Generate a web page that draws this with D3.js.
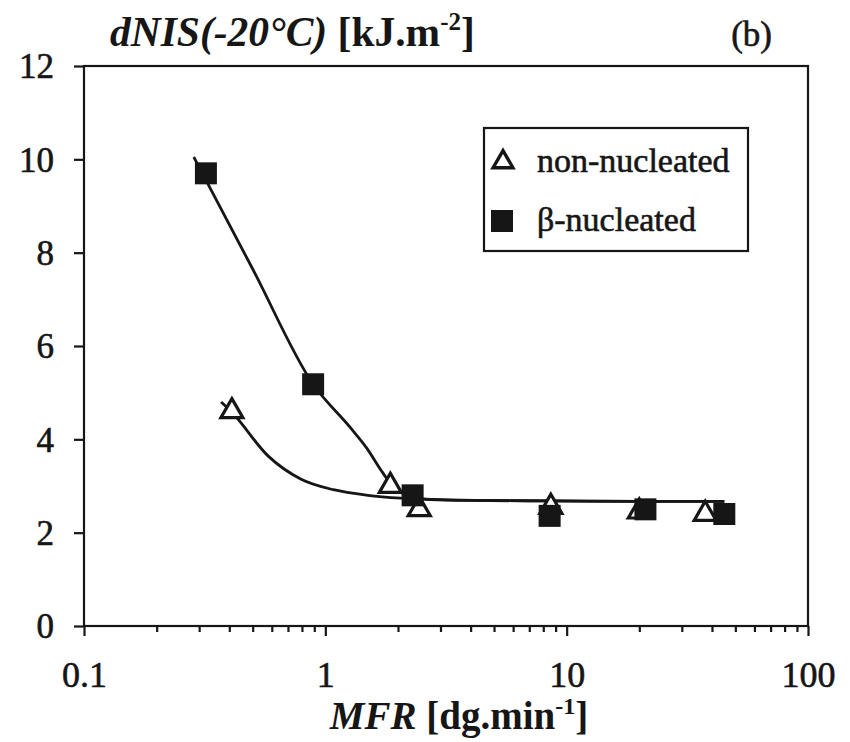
<!DOCTYPE html>
<html><head><meta charset="utf-8">
<script src="https://cdn.jsdelivr.net/npm/d3@7"></script>
<style>body{margin:0;background:#fff}</style>
</head><body>
<svg id="c" width="850" height="742"></svg>
<script>
// Data
const nonNucMFR = [0.41, 1.86, 2.45, 8.6, 20.0, 37.5];
const nonNucNIS = [4.6, 3.0, 2.5, 2.55, 2.45, 2.4];
const betaMFR = [0.32, 0.89, 2.3, 8.5, 21.2, 45];
const betaNIS = [9.7, 5.18, 2.8, 2.36, 2.5, 2.4];
// fitted trend curves
const betaFitMFR = [0.285, 0.5, 0.89, 1.27, 1.49, 1.69, 1.86, 2.04, 2.29, 2.72, 4, 8, 20, 45];
const betaFitNIS = [10.05, 7.65, 5.18, 4.25, 3.8, 3.36, 3.06, 2.87, 2.76, 2.71, 2.69, 2.68, 2.67, 2.67];
const nonFitMFR = [0.37, 0.41, 0.58, 0.79, 1.08, 1.5, 2.05, 3, 5, 10, 20, 45];
const nonFitNIS = [4.8, 4.58, 3.64, 3.15, 2.92, 2.8, 2.74, 2.71, 2.69, 2.68, 2.67, 2.67];
const xTicks = [0.1, 1, 10, 100];
const xTickLabels = ["0.1", "1", "10", "100"];
const yTicks = [0, 2, 4, 6, 8, 10, 12];
const legendLabels = ["non-nucleated", "β-nucleated"];

const svg = d3.select("#c");
const L = 84, R = 808, T = 66, B = 626;
const x = d3.scaleLog().domain([0.1, 100]).range([L, R]);
const y = d3.scaleLinear().domain([0, 12]).range([B, T]);
const ink = "#161616";
const font = "Liberation Serif, DejaVu Serif, Noto Serif, serif";

// frame
svg.append("rect").attr("x", L).attr("y", T).attr("width", R - L).attr("height", B - T)
  .attr("fill", "none").attr("stroke", ink).attr("stroke-width", 2.2);

// y axis
const yAxis = d3.axisLeft(y).tickValues(yTicks).tickSize(10).tickPadding(20).tickFormat(d3.format("d"));
const gy = svg.append("g").attr("transform", `translate(${L},0)`).call(yAxis);
gy.select(".domain").remove();
gy.selectAll("line").attr("stroke", ink).attr("stroke-width", 2.2);
gy.selectAll("text").style("font-family", font).style("font-size", "35px").attr("fill", ink)
  .attr("stroke", ink).attr("stroke-width", 0.6).attr("dy", "0.34em");

// x axis major + minor
const minor = [];
[0.1, 1, 10].forEach(d => { for (let k = 2; k <= 9; k++) minor.push(d * k); });
const gxm = svg.append("g").attr("transform", `translate(0,${B})`)
  .call(d3.axisBottom(x).tickValues(minor).tickSize(6).tickFormat(""));
gxm.select(".domain").remove();
gxm.selectAll("line").attr("stroke", ink).attr("stroke-width", 2.2);
const gx = svg.append("g").attr("transform", `translate(0,${B})`)
  .call(d3.axisBottom(x).tickValues(xTicks).tickSize(10).tickPadding(0)
    .tickFormat((d, i) => xTickLabels[i]));
gx.select(".domain").remove();
gx.selectAll("line").attr("stroke", ink).attr("stroke-width", 2.2);
gx.selectAll("text").style("font-family", font).style("font-size", "36px").attr("fill", ink)
  .attr("stroke", ink).attr("stroke-width", 0.6).attr("y", 61).attr("dy", 0);

// curves
const line = d3.line().x(d => x(d[0])).y(d => y(d[1])).curve(d3.curveMonotoneX);
svg.append("path").attr("d", line(betaFitMFR.map((m, i) => [m, betaFitNIS[i]])))
  .attr("fill", "none").attr("stroke", ink).attr("stroke-width", 2.8);
svg.append("path").attr("d", line(nonFitMFR.map((m, i) => [m, nonFitNIS[i]])))
  .attr("fill", "none").attr("stroke", ink).attr("stroke-width", 2.8);

// markers
const tri = d3.symbol().type(d3.symbolTriangle).size(210);
svg.selectAll(".tri").data(nonNucMFR.map((m, i) => [m, nonNucNIS[i]])).enter()
  .append("path").attr("d", tri)
  .attr("transform", d => `translate(${x(d[0])},${y(d[1])})`)
  .attr("fill", "#fff").attr("stroke", ink).attr("stroke-width", 3.2);
const s = 22;
svg.selectAll(".sq").data(betaMFR.map((m, i) => [m, betaNIS[i]])).enter()
  .append("rect").attr("x", d => x(d[0]) - s / 2).attr("y", d => y(d[1]) - s / 2)
  .attr("width", s).attr("height", s).attr("fill", ink);

// legend
const lg = svg.append("g");
lg.append("rect").attr("x", 484).attr("y", 128).attr("width", 264).attr("height", 123)
  .attr("fill", "#fff").attr("stroke", ink).attr("stroke-width", 2.2);
lg.append("path").attr("d", d3.symbol().type(d3.symbolTriangle).size(170))
  .attr("transform", "translate(503,162)").attr("fill", "#fff").attr("stroke", ink).attr("stroke-width", 3.4);
lg.append("rect").attr("x", 491).attr("y", 210).attr("width", 22).attr("height", 22).attr("fill", ink);
lg.selectAll("text").data(legendLabels).enter().append("text")
  .attr("x", 537).attr("y", (d, i) => 172 + i * 59).text(d => d)
  .style("font-family", font).style("font-size", "34px").attr("fill", ink)
  .attr("stroke", ink).attr("stroke-width", 0.6);

// title
const t = svg.append("text").attr("x", 110).attr("y", 46).style("font-family", font)
  .style("font-size", "41.5px").style("font-weight", "bold").attr("fill", ink);
t.append("tspan").style("font-style", "italic").text("dNIS(-20°C)");
t.append("tspan").text(" [kJ.m");
t.append("tspan").style("font-size", "25px").attr("dy", -16).text("-2");
t.append("tspan").attr("dy", 16).text("]");
svg.append("text").attr("x", 772).attr("y", 46).attr("text-anchor", "end")
  .style("font-family", font).style("font-size", "35px").attr("fill", ink)
  .attr("stroke", ink).attr("stroke-width", 0.6).text("(b)");

// x label
const xl = svg.append("text").attr("x", 459).attr("y", 729).attr("text-anchor", "middle")
  .style("font-family", font).style("font-size", "39px").style("font-weight", "bold").attr("fill", ink);
xl.append("tspan").style("font-style", "italic").text("MFR");
xl.append("tspan").text(" [dg.min");
xl.append("tspan").style("font-size", "24px").attr("dy", -15).text("-1");
xl.append("tspan").attr("dy", 15).text("]");
</script>
</body></html>
